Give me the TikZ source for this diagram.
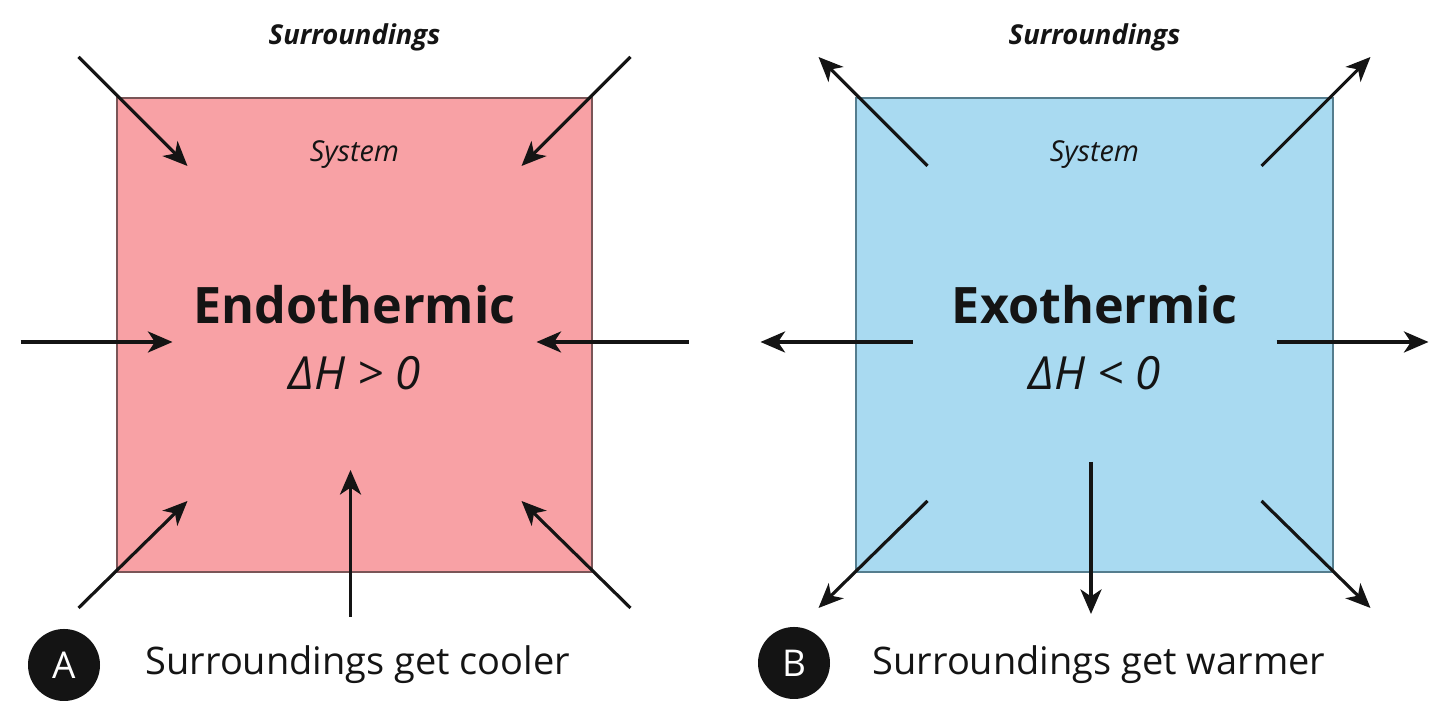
\documentclass[tikz,border=0pt]{standalone}
\usepackage{fontspec}
\setmainfont{Open Sans}
\usepackage{xcolor}
\usepackage{tikz}
\usetikzlibrary{arrows.meta, positioning}

\definecolor{endofill}{HTML}{F8A1A5}
\definecolor{endoline}{HTML}{7A5557}
\definecolor{exofill}{HTML}{A9DAF1}
\definecolor{exoline}{HTML}{557D8E}
\definecolor{ink}{HTML}{141414}

\tikzset{
  heat/.style={draw=ink, line width=0.9pt, -{Stealth[length=7pt,width=6pt,inset=2pt]}},
  surr/.style={font=\fontsize{7.8}{9}\selectfont\bfseries\itshape, text=ink},
  sys/.style={font=\fontsize{8.2}{10}\selectfont\itshape, text=ink},
  kind/.style={font=\fontsize{14.3}{17}\selectfont\bfseries, text=ink},
  enth/.style={font=\fontsize{13}{15}\selectfont\itshape, text=ink},
  badge/.style={circle, fill=ink, minimum size=0.72cm, inner sep=0pt, text=white, font=\fontsize{10.5}{12}\selectfont},
  caption/.style={anchor=west, font=\fontsize{10.8}{12}\selectfont, text=ink, inner sep=0pt}
}

\begin{document}
\begin{tikzpicture}
\useasboundingbox (0,0) rectangle (14.4,7.11);
\def\ca{3.545}  % centre of panel A
\def\cb{10.945} % centre of panel B
\def\cy{3.76}

% the two systems
\draw[fill=endofill, draw=endoline, line width=0.6pt] (1.17,1.39) rectangle (5.92,6.13);
\draw[fill=exofill, draw=exoline, line width=0.6pt] (8.56,1.39) rectangle (13.33,6.13);

% end points of the heat arrows, outer (o) and inner (i)
\foreach \p/\c in {A/\ca, B/\cb}{
  \coordinate (\p tlo) at (\c-2.76,\cy+2.78);  \coordinate (\p tli) at (\c-1.67,\cy+1.69);
  \coordinate (\p tro) at (\c+2.76,\cy+2.78);  \coordinate (\p tri) at (\c+1.67,\cy+1.69);
  \coordinate (\p lo)  at (\c-3.34,\cy-0.07);  \coordinate (\p li)  at (\c-1.82,\cy-0.07);
  \coordinate (\p ro)  at (\c+3.34,\cy-0.07);  \coordinate (\p ri)  at (\c+1.82,\cy-0.07);
  \coordinate (\p blo) at (\c-2.76,\cy-2.73);  \coordinate (\p bli) at (\c-1.67,\cy-1.66);
  \coordinate (\p bro) at (\c+2.76,\cy-2.73);  \coordinate (\p bri) at (\c+1.67,\cy-1.66);
}
\coordinate (Abo) at (\ca-0.04,\cy-2.82);  \coordinate (Abi) at (\ca-0.04,\cy-1.35);
\coordinate (Bbo) at (\cb-0.035,\cy-2.79); \coordinate (Bbi) at (\cb-0.035,\cy-1.27);

% A: heat flows in, B: heat flows out
\foreach \s in {tl,tr,l,r,bl,br,b}{
  \draw[heat] (A\s o) -- (A\s i);
  \draw[heat] (B\s i) -- (B\s o);
}

% texts
\node[surr] (surrA) at (\ca,6.74) {Surroundings};
\node[surr] (surrB) at (\cb,6.74) {Surroundings};
\node[sys] (sysA) at (\ca,5.56) {System};
\node[sys] (sysB) at (\cb,5.56) {System};
\node[kind] (kindA) at (\ca,4.06) {Endothermic};
\node[kind] (kindB) at (\cb,4.06) {Exothermic};
\node[enth] (dhA) at (\ca,3.38) {ΔH > 0};
\node[enth] (dhB) at (\cb,3.38) {ΔH < 0};

\node[badge] (badgeA) at (0.64,0.46) {A};
\node[badge] (badgeB) at (7.94,0.48) {B};
\node[caption] (capA) at (1.45,0.46) {Surroundings get cooler};
\node[caption] (capB) at (8.72,0.46) {Surroundings get warmer};
\end{tikzpicture}
\end{document}
